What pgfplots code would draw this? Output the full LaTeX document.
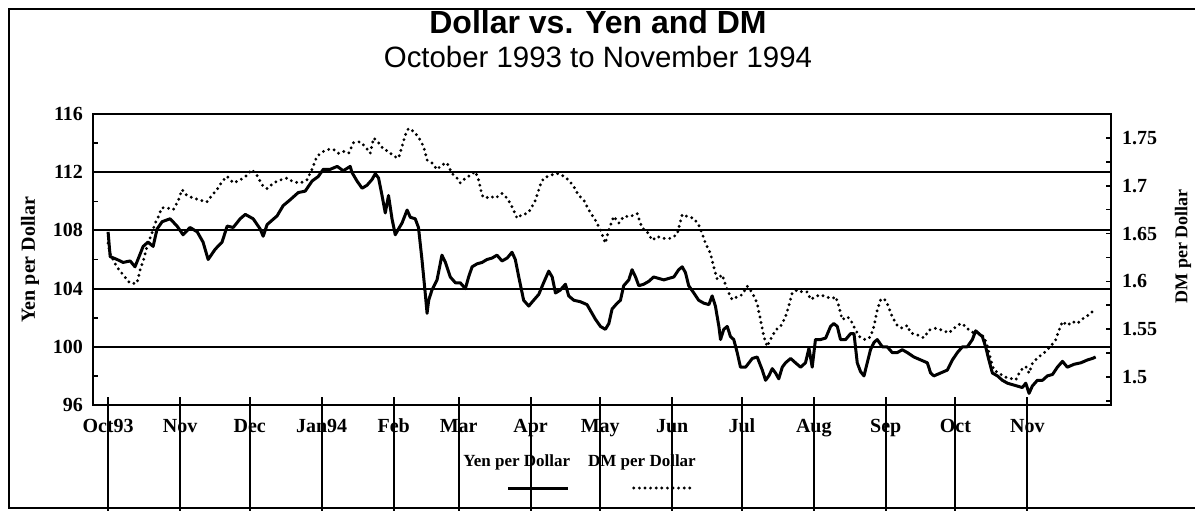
\documentclass[border=0pt]{standalone}
\usepackage{pgfplots}
\pgfplotsset{compat=1.18}
\usepackage{pgfplotstable}
\usepackage{fontspec}
\setmainfont{Liberation Serif}
\newfontfamily\sansfont{Liberation Sans}

\pgfplotstableread{
d yen
0 107.9
0.9 106.2
3.9 106.0
6.5 105.8
9.5 105.9
11.6 105.5
15.1 106.9
17.2 107.2
19.4 106.9
21.1 108.1
23.3 108.6
26.7 108.8
29.7 108.3
32.3 107.7
35.3 108.2
38.4 107.9
40.9 107.2
43.1 106.0
46.1 106.7
49.1 107.2
51.3 108.3
53.9 108.2
56.9 108.8
59.1 109.1
62.5 108.8
65.5 108.1
66.8 107.6
68.5 108.4
72.8 109.0
75.4 109.7
78.4 110.1
81.9 110.6
84.9 110.7
87.9 111.4
90.5 111.7
92.7 112.2
95.7 112.2
98.7 112.4
101.3 112.1
104.3 112.4
105.0 112.0
107.2 111.4
109.4 110.9
111.5 111.1
113.7 111.5
115.1 111.9
116.5 111.6
118.0 110.4
119.4 109.2
120.8 110.4
122.3 108.8
123.7 107.7
125.1 108.1
126.6 108.5
128.8 109.4
130.2 108.9
132.3 108.8
133.7 108.2
135.2 106.0
136.6 103.7
137.4 102.3
138.1 103.2
139.5 103.9
141.7 104.6
143.8 106.3
145.3 105.8
147.4 104.8
149.6 104.4
151.7 104.4
153.9 104.0
155.3 104.8
156.8 105.5
158.9 105.7
161.1 105.8
163.2 106.0
165.4 106.1
167.5 106.3
169.7 105.9
171.9 106.1
174.0 106.5
175.4 106.0
176.9 104.8
179.0 103.2
181.2 102.8
183.3 103.2
185.5 103.6
187.6 104.4
189.8 105.2
191.3 104.8
192.7 103.7
194.8 103.9
197.0 104.3
198.4 103.5
200.6 103.2
203.4 103.1
206.3 102.9
209.9 101.9
212.1 101.4
214.2 101.2
215.7 101.6
217.1 102.6
219.3 103.0
220.7 103.2
222.1 104.2
224.3 104.6
225.7 105.3
227.2 104.8
228.6 104.2
230.7 104.3
232.9 104.5
235.0 104.8
237.2 104.7
239.4 104.6
241.5 104.7
243.7 104.8
245.8 105.3
247.3 105.5
248.7 105.1
250.1 104.2
252.3 103.7
254.4 103.2
256.6 103.0
258.8 102.9
260.2 103.5
261.6 102.8
263.1 101.4
263.8 100.5
265.2 101.2
266.7 101.4
268.1 100.7
269.5 100.5
271.0 99.6
272.4 98.6
274.6 98.6
277.5 99.2
279.6 99.3
281.8 98.4
283.2 97.7
284.6 98.0
286.1 98.5
287.5 98.2
288.9 97.8
290.4 98.6
291.8 98.9
294.0 99.2
296.1 98.9
298.3 98.6
300.4 98.9
301.9 99.9
303.3 98.6
304.7 100.5
306.9 100.5
309.1 100.6
311.2 101.4
312.6 101.6
314.1 101.4
315.5 100.5
317.7 100.5
319.8 100.9
321.3 100.9
322.7 98.9
324.1 98.3
325.6 98.0
327.0 98.9
328.4 99.8
329.9 100.3
331.3 100.5
333.5 100.0
335.6 100.0
337.8 99.6
339.9 99.6
342.1 99.8
344.3 99.6
347.1 99.3
350.0 99.1
352.9 98.9
354.3 98.2
355.7 98.0
358.6 98.2
361.5 98.4
363.7 99.1
365.8 99.6
368.0 100.0
370.1 100.0
372.3 100.5
373.7 101.1
375.1 100.9
376.6 100.7
378.0 100.0
379.4 99.1
380.9 98.2
383.1 98.0
385.2 97.7
387.4 97.5
389.5 97.4
391.7 97.3
393.8 97.2
395.3 97.5
396.7 96.8
398.1 97.3
400.3 97.7
402.5 97.7
404.6 98.0
406.8 98.1
408.9 98.6
411.1 99.0
413.2 98.6
416.1 98.8
419.0 98.9
421.9 99.1
424.0 99.2
425.4 99.3
}\yendata

\pgfplotstableread{
d dm
0 1.640
0.9 1.629
3.8 1.615
8.1 1.602
9.5 1.598
12.4 1.598
13.8 1.612
15.2 1.622
16.7 1.636
18.8 1.650
20.3 1.661
21.7 1.668
23.1 1.677
25.3 1.677
28.1 1.675
30.3 1.685
31.8 1.696
33.9 1.690
36.8 1.687
39.7 1.685
42.5 1.683
44.7 1.690
46.9 1.696
49.0 1.704
51.2 1.710
54.0 1.703
56.9 1.706
59.8 1.711
61.9 1.717
64.1 1.711
66.3 1.701
68.4 1.697
71.3 1.703
74.1 1.706
77.0 1.708
79.9 1.704
82.8 1.703
85.6 1.706
87.8 1.717
90.0 1.731
92.8 1.736
95.0 1.738
97.1 1.738
99.3 1.734
101.4 1.736
103.6 1.734
105.7 1.745
108.6 1.746
110.8 1.741
112.9 1.734
114.4 1.750
116.5 1.745
118.7 1.738
120.8 1.736
123.0 1.731
125.1 1.729
126.6 1.741
128.0 1.753
129.4 1.760
131.6 1.757
133.7 1.751
135.9 1.741
137.4 1.727
139.5 1.724
141.7 1.717
143.8 1.722
146.0 1.724
148.1 1.713
150.3 1.708
151.7 1.703
153.9 1.708
156.0 1.711
158.2 1.715
159.6 1.706
161.1 1.690
162.5 1.687
164.7 1.689
166.8 1.687
169.7 1.692
171.9 1.687
174.0 1.678
176.2 1.666
178.3 1.670
180.5 1.671
181.9 1.675
184.1 1.685
186.2 1.701
187.6 1.708
190.5 1.711
193.4 1.713
196.3 1.710
198.4 1.706
200.6 1.699
202.7 1.690
204.9 1.685
207.0 1.675
209.9 1.664
212.1 1.654
214.2 1.640
215.7 1.654
217.8 1.668
220.0 1.661
222.1 1.668
225.0 1.668
227.9 1.671
230.0 1.656
232.2 1.652
234.4 1.643
236.5 1.647
239.4 1.645
242.2 1.645
245.1 1.649
247.3 1.670
249.4 1.668
252.3 1.666
254.4 1.659
255.9 1.650
257.3 1.640
259.5 1.629
260.9 1.615
262.4 1.602
264.5 1.607
266.7 1.591
268.8 1.581
271.0 1.584
273.1 1.586
275.3 1.595
277.5 1.588
279.6 1.577
281.0 1.560
282.5 1.542
283.9 1.532
285.3 1.539
287.5 1.549
289.7 1.553
291.8 1.563
293.2 1.574
294.7 1.588
296.8 1.591
299.0 1.589
301.2 1.589
302.6 1.581
304.7 1.584
306.9 1.586
309.1 1.584
311.9 1.582
313.4 1.584
314.8 1.574
316.2 1.560
318.4 1.563
319.8 1.560
322.0 1.549
324.1 1.541
326.3 1.539
328.4 1.542
329.9 1.553
331.3 1.570
332.8 1.581
334.2 1.582
335.6 1.577
337.8 1.563
339.9 1.554
342.1 1.551
344.3 1.554
345.7 1.546
348.6 1.544
351.4 1.541
353.6 1.549
356.5 1.551
359.4 1.549
362.2 1.546
364.4 1.551
367.2 1.556
369.4 1.553
370.8 1.549
373.0 1.546
375.1 1.546
377.3 1.542
378.8 1.532
380.2 1.518
381.6 1.507
383.8 1.504
386.3 1.500
388.1 1.499
391.0 1.497
393.1 1.507
395.3 1.511
396.7 1.504
398.1 1.514
400.3 1.520
403.1 1.525
406.0 1.532
408.2 1.539
409.6 1.549
411.1 1.558
413.2 1.554
415.4 1.558
417.5 1.556
420.4 1.562
422.5 1.565
424.7 1.570
}\dmdata

\begin{document}
\begin{tikzpicture}
\useasboundingbox (0,0) rectangle (597.5pt,-255pt);
\draw[line width=1pt] (600pt,-4.5pt) -- (4.5pt,-4.5pt) -- (4.5pt,-254pt) -- (600pt,-254pt);
\node[font=\sansfont\bfseries\fontsize{16}{19}\selectfont] at (299pt,-11pt) {Dollar vs. Yen and DM};
\node[font=\sansfont\fontsize{14.7}{17}\selectfont] at (299pt,-28.5pt) {October 1993 to November 1994};

\begin{axis}[
  at={(46.5pt,-202.5pt)}, anchor=south west,
  scale only axis, width=509pt, height=145.5pt,
  xmin=-6.5, xmax=432, ymin=96, ymax=116,
  axis line style={line width=1pt},
  xtick={0,31,61,92,123,151,182,212,243,273,304,335,365,396},
  xticklabels={Oct93,Nov,Dec,Jan94,Feb,Mar,Apr,May,Jun,Jul,Aug,Sep,Oct,Nov},
  extra x ticks={0,31,61,92,123,151,182,212,243,273,304,335,365,396},
  extra x tick labels={},
  extra x tick style={tick align=outside, major tick length=53pt},
  xtick pos=bottom, ytick pos=left,
  ytick={96,100,104,108,112,116},
  yticklabels={96,100,104,108,112,116},
  minor ytick={98,102,106,110,114},
  tick align=inside,
  major tick length=4pt,
  minor tick length=2.5pt,
  tick style={line width=1pt, black},
  minor tick style={line width=0.8pt},
  ymajorgrids, grid style={line width=1pt, black},
  ticklabel style={font=\bfseries\fontsize{10}{12}\selectfont},
  xticklabel style={anchor=base, yshift=-13.5pt},
  yticklabel style={xshift=-1.5pt},
  every axis y label/.style={at={(axis description cs:-0.0619,0.5)}, anchor=center, rotate=90, font=\bfseries\fontsize{10}{12}\selectfont},
  ylabel={Yen per Dollar},
]
\addplot[line width=1.5pt, line join=round] table[x=d,y=yen]{\yendata};
\end{axis}

\begin{axis}[
  at={(46.5pt,-202.5pt)}, anchor=south west,
  scale only axis, width=509pt, height=145.5pt,
  xmin=-6.5, xmax=432, ymin=1.4707, ymax=1.7751,
  axis x line=none, axis y line*=right,
  axis line style={-, line width=1pt},
  ytick={1.5,1.55,1.6,1.65,1.7,1.75},
  yticklabels={1.5,1.55,1.6,1.65,1.7,1.75},
  minor ytick={1.475,1.525,1.575,1.625,1.675,1.725,1.775},
  tick align=inside, major tick length=2.5pt, minor tick length=2.5pt,
  tick style={line width=0.8pt, black},
  ticklabel style={font=\bfseries\fontsize{10}{12}\selectfont},
  yticklabel style={xshift=2pt},
  every axis y label/.style={at={(axis description cs:1.0707,0.546)}, anchor=center, rotate=90, font=\bfseries\fontsize{9}{11}\selectfont},
  ylabel={DM per Dollar},
  legend style={at={(axis description cs:0.479,-0.196)}, anchor=center, draw=none, fill=none,
    legend columns=2, font=\bfseries\fontsize{8.5}{10}\selectfont,
    /tikz/every even column/.append style={column sep=4pt}},
  legend plot pos=right,
  legend image code/.code={\path[draw=none] (0,0) -- (1pt,0); \draw[#1,overlay] (-33pt,-13pt) -- (-3pt,-13pt);},
]
\addlegendimage{line width=1.5pt}
\addlegendentry{Yen per Dollar}
\addplot[line width=1.6pt, line cap=round, dash pattern=on 0pt off 2.8pt] table[x=d,y=dm]{\dmdata};
\addlegendentry{DM per Dollar}
\end{axis}
\end{tikzpicture}
\end{document}
